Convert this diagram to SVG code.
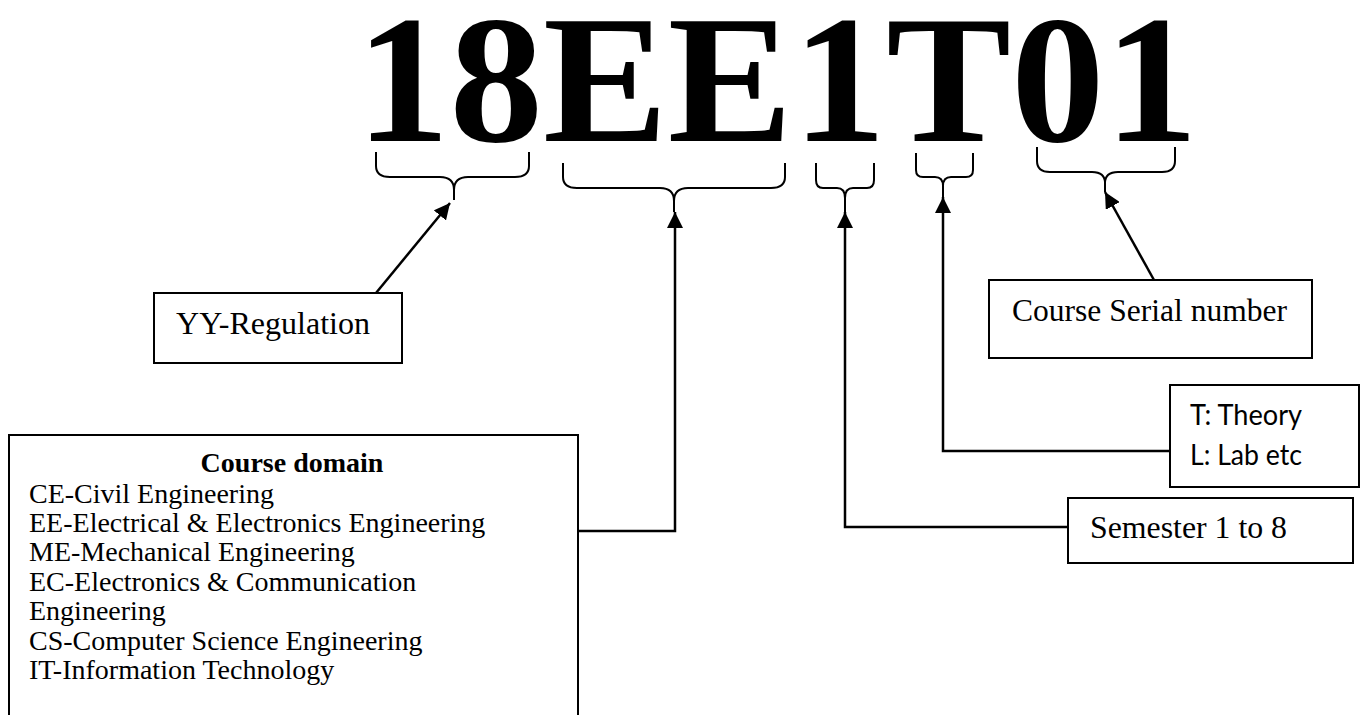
<svg xmlns="http://www.w3.org/2000/svg" width="1362" height="715" viewBox="0 0 1362 715">
<style>
  .box{fill:#fff;stroke:#000;stroke-width:2}
  .t{font-family:"Liberation Serif","Times New Roman",serif;font-size:32px;fill:#000}
  .d{font-family:"Liberation Serif","Times New Roman",serif;font-size:28px;fill:#000}
  .s{font-family:Lato,"Open Sans","Liberation Sans",sans-serif;font-size:29px;fill:#000}
  .brace{fill:none;stroke:#000;stroke-width:2}
  .con{fill:none;stroke:#000;stroke-width:2.5}
</style>
<defs>
  <marker id="ah" viewBox="0 0 10 10" refX="10" refY="5" markerWidth="16" markerHeight="16" markerUnits="userSpaceOnUse" orient="auto">
    <path d="M0,0 L10,5 L0,10 z" fill="#000"/>
  </marker>
</defs>
<rect width="1362" height="715" fill="#fff"/>
<g id="code">
  <text x="356" y="141" font-family="Liberation Serif, Times New Roman, serif" font-weight="bold" font-size="182" textLength="842" lengthAdjust="spacingAndGlyphs">18EE1T01</text>
</g>
<g id="braces">
  <path class="brace" d="M376,152 V166 Q376,177 390,177 H440 Q454,177 454,190 V200 M529,152 V166 Q529,177 515,177 H468 Q454,177 454,190"/>
  <path class="brace" d="M563,163 V177 Q563,188 577,188 H660 Q674,188 674,201 V212 M785,163 V177 Q785,188 771,188 H688 Q674,188 674,201"/>
  <path class="brace" d="M816,163 V180 Q816,188 823,188 H837 Q845,188 845,198 V212 M874,163 V180 Q874,188 867,188 H853 Q845,188 845,198"/>
  <path class="brace" d="M916,153 V170 Q916,177 923,177 H935 Q943,177 943,186 V197 M973,153 V170 Q973,177 966,177 H951 Q943,177 943,186"/>
  <path class="brace" d="M1037,147 V161 Q1037,172 1050,172 H1092 Q1105,172 1105,183 V192 M1175,147 V161 Q1175,172 1162,172 H1118 Q1105,172 1105,183"/>
</g>
<g id="connectors">
  <path class="con" d="M376,293 L450,203" marker-end="url(#ah)"/>
  <path class="con" d="M578,531 H675 V212" marker-end="url(#ah)"/>
  <path class="con" d="M1068,527 H845 V212" marker-end="url(#ah)"/>
  <path class="con" d="M1170,451 H943 V197" marker-end="url(#ah)"/>
  <path class="con" d="M1154,280 L1105,192" marker-end="url(#ah)"/>
</g>
<g id="yy">
  <rect class="box" x="154" y="293" width="248" height="70"/>
  <text class="t" x="176" y="334" textLength="194" lengthAdjust="spacingAndGlyphs">YY-Regulation</text>
</g>
<g id="serial">
  <rect class="box" x="989" y="280" width="323" height="78"/>
  <text class="t" x="1012" y="321" textLength="275" lengthAdjust="spacingAndGlyphs">Course Serial number</text>
</g>
<g id="type">
  <rect class="box" x="1170" y="385" width="189" height="102"/>
  <text class="s" x="1190" y="425" textLength="112" lengthAdjust="spacingAndGlyphs">T: Theory</text>
  <text class="s" x="1190" y="465" textLength="112" lengthAdjust="spacingAndGlyphs">L: Lab etc</text>
</g>
<g id="semester">
  <rect class="box" x="1068" y="498" width="285" height="65"/>
  <text class="t" x="1090" y="538" textLength="197" lengthAdjust="spacingAndGlyphs">Semester 1 to 8</text>
</g>
<g id="domain">
  <rect class="box" x="9" y="435" width="569" height="300"/>
  <text class="d" x="292" y="472" text-anchor="middle" font-weight="bold">Course domain</text>
  <text class="d" x="29" y="503">CE-Civil Engineering</text>
  <text class="d" x="29" y="532">EE-Electrical &amp; Electronics Engineering</text>
  <text class="d" x="29" y="561">ME-Mechanical Engineering</text>
  <text class="d" x="29" y="591">EC-Electronics &amp; Communication</text>
  <text class="d" x="29" y="620">Engineering</text>
  <text class="d" x="29" y="650">CS-Computer Science Engineering</text>
  <text class="d" x="29" y="679">IT-Information Technology</text>
</g>
</svg>
